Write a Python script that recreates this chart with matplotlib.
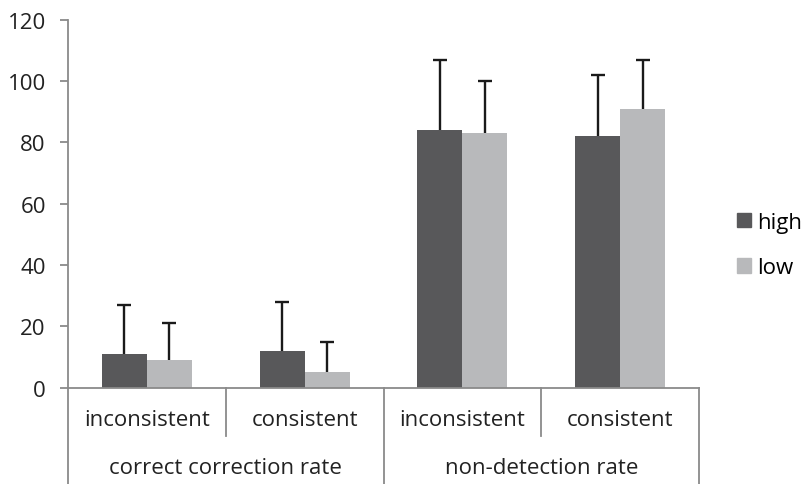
import matplotlib
matplotlib.use("Agg")
import matplotlib.pyplot as plt
import numpy as np
from matplotlib.patches import Patch

plt.rcParams['font.family'] = ['Open Sans', 'DejaVu Sans']

conditions = ["inconsistent", "consistent", "inconsistent", "consistent"]
groups = ["correct correction rate", "non-detection rate"]
series = ["high", "low"]
high_vals = [11, 12, 84, 82]
low_vals = [9, 5, 83, 91]
high_err = [16, 16, 23, 20]
low_err = [12, 10, 17, 16]
yticks = [0, 20, 40, 60, 80, 100, 120]

dark = "#58585a"
light = "#b8b9bb"
axis_gray = "#8a8a8a"
fs = 16

W, H = 805, 485
fig = plt.figure(figsize=(W / 100, H / 100), dpi=100)
x0, x1 = 68, 699
ytop, ybot = 20.7, 388.7
ax = fig.add_axes([x0 / W, (H - ybot) / H, (x1 - x0) / W, (ybot - ytop) / H])

bw = 0.285
pos = np.array([i + 0.5 for i in range(len(conditions))])
hx = pos - bw / 2
lx = pos + bw / 2
ax.bar(hx, high_vals, width=bw, color=dark, zorder=2)
ax.bar(lx, low_vals, width=bw, color=light, zorder=2)
for xs, v, e in [(hx, high_vals, high_err), (lx, low_vals, low_err)]:
    v = np.array(v); e = np.array(e)
    ax.vlines(xs, v, v + e, color="#1a1a1a", lw=1.7, zorder=3)
    ax.plot(xs, v + e, linestyle="none", marker="_", markersize=10, mew=1.7,
            color="#1a1a1a", zorder=3)

ax.set_xlim(0, len(conditions))
ax.set_ylim(0, 120)
ax.set_yticks(yticks)
ax.set_yticklabels([str(t) for t in yticks], fontsize=fs, color="#222222")
ax.tick_params(axis="y", length=6, width=1.3, color=axis_gray, pad=10)
ax.set_xticks([])
for s in ["top", "right"]:
    ax.spines[s].set_visible(False)
for s in ["left", "bottom"]:
    ax.spines[s].set_color(axis_gray)
    ax.spines[s].set_linewidth(1.3)

tr = ax.get_xaxis_transform()
ph = ybot - ytop
short_y = -(437 - ybot) / ph
long_y = -(485 - ybot) / ph
for xv in [0, 2, 4]:
    ax.plot([xv, xv], [0, long_y], transform=tr, color=axis_gray, lw=1.3, clip_on=False)
for xv in [1, 3]:
    ax.plot([xv, xv], [0, short_y], transform=tr, color=axis_gray, lw=1.3, clip_on=False)

cat_y = -(420.5 - ybot) / ph
grp_y = -(469 - ybot) / ph
for p, c in zip(pos, conditions):
    ax.text(p, cat_y, c, transform=tr, ha="center", va="center", fontsize=fs, color="#222222")
for i, g in enumerate(groups):
    ax.text(2 * i + 1, grp_y, g, transform=tr, ha="center", va="center", fontsize=fs, color="#222222")

handles = [Patch(color=dark, label=series[0]), Patch(color=light, label=series[1])]
fig.legend(handles=handles, loc="center left", bbox_to_anchor=(730 / W, 1 - 246 / H),
           frameon=False, fontsize=fs, handlelength=0.65, handleheight=0.65,
           handletextpad=0.25, labelspacing=1.1, borderaxespad=0, borderpad=0.3)

fig.savefig("out.png", dpi=100)
